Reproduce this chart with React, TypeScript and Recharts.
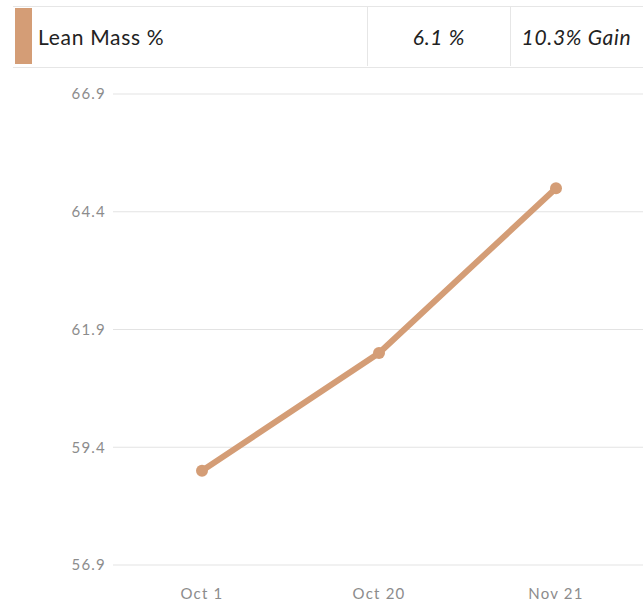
import { LineChart, Line, CartesianGrid, XAxis, YAxis } from "recharts";

const dates = ["Oct 1", "Oct 20", "Nov 21"];
const leanMass = [58.9, 61.4, 64.9];
const yTicks = [56.9, 59.4, 61.9, 64.4, 66.9];

const metricName = "Lean Mass %";
const changeText = "6.1 %";
const gainText = "10.3% Gain";

const data = dates.map((date, i) => ({ date, value: leanMass[i] }));

const accent = "#d49d76";
const border = "#e6e6e6";
const font = "Lato, 'Noto Sans', sans-serif";

const headerText = {
  fontSize: 21,
  letterSpacing: 0.7,
  color: "#222",
};

const tickStyle = {
  fill: "#8c8c8c",
  fontSize: 15,
  fontFamily: font,
  letterSpacing: 1.2,
};

const App = () => {
  return (
    <div
      style={{
        position: "absolute",
        left: 0,
        top: 0,
        width: 643,
        height: 605,
        background: "#fff",
        overflow: "hidden",
        fontFamily: font,
      }}
    >
      {/* header row */}
      <div
        style={{
          position: "absolute",
          left: 13,
          top: 6,
          width: 630,
          height: 60,
          borderTop: `1px solid ${border}`,
          borderBottom: `1px solid ${border}`,
        }}
      />
      <div
        style={{
          position: "absolute",
          left: 15,
          top: 8,
          width: 17,
          height: 56,
          background: accent,
        }}
      />
      <div
        style={{
          ...headerText,
          position: "absolute",
          left: 38,
          top: 7,
          height: 60,
          lineHeight: "60px",
        }}
      >
        {metricName}
      </div>
      <div
        style={{
          ...headerText,
          position: "absolute",
          left: 367,
          top: 7,
          width: 142,
          height: 59,
          borderLeft: `1px solid ${border}`,
          borderRight: `1px solid ${border}`,
          lineHeight: "59px",
          textAlign: "center",
          fontStyle: "italic",
        }}
      >
        {changeText}
      </div>
      <div
        style={{
          ...headerText,
          position: "absolute",
          left: 510,
          top: 7,
          width: 133,
          height: 59,
          lineHeight: "59px",
          textAlign: "center",
          fontStyle: "italic",
        }}
      >
        {gainText}
      </div>

      {/* chart */}
      <div style={{ position: "absolute", left: 0, top: 0 }}>
        <LineChart
          width={643}
          height={605}
          data={data}
          margin={{ top: 94, right: 0, bottom: 0, left: 0 }}
        >
          <CartesianGrid vertical={false} stroke="#e3e3e3" />
          <XAxis
            dataKey="date"
            axisLine={false}
            tickLine={false}
            tickSize={0}
            tickMargin={23}
            height={40}
            padding={{ left: 89, right: 87 }}
            tick={tickStyle}
          />
          <YAxis
            domain={[56.9, 66.9]}
            ticks={yTicks}
            axisLine={false}
            tickLine={false}
            tickSize={0}
            tickMargin={7}
            width={113}
            tick={tickStyle}
          />
          <Line
            type="linear"
            dataKey="value"
            stroke={accent}
            strokeWidth={6}
            dot={{ r: 6, fill: accent, stroke: accent, strokeWidth: 0 }}
            isAnimationActive={false}
          />
        </LineChart>
      </div>
    </div>
  );
};

export default App;
